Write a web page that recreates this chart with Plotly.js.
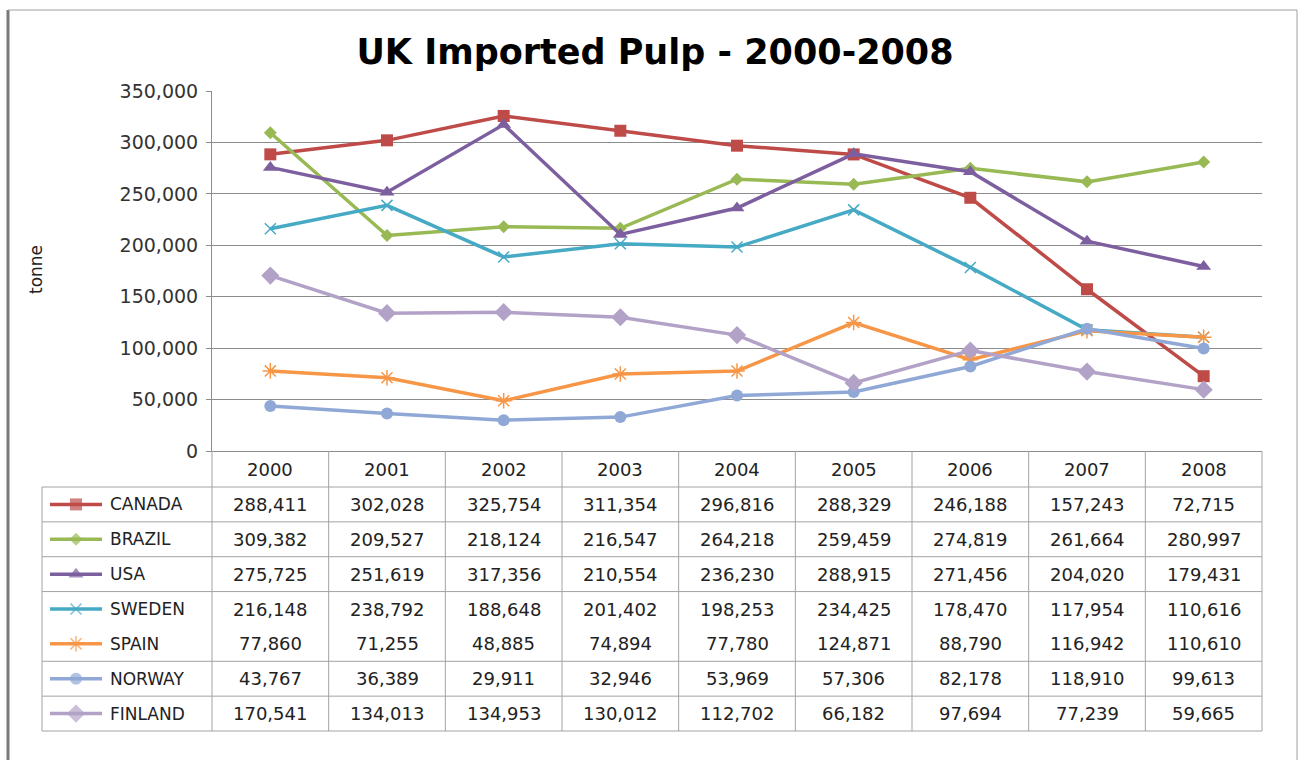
<!DOCTYPE html>
<html>
<head>
<meta charset="utf-8">
<script src="https://cdn.plot.ly/plotly-3.0.1.min.js"></script>
<style>html,body{margin:0;padding:0;background:#fff;} #chart{width:1302px;height:760px;}</style>
</head>
<body>
<div id="chart"></div>
<script>
// ---- data ----
const years = ['2000','2001','2002','2003','2004','2005','2006','2007','2008'];
const seriesNames = ['CANADA','BRAZIL','USA','SWEDEN','SPAIN','NORWAY','FINLAND'];
const canada  = [288411, 302028, 325754, 311354, 296816, 288329, 246188, 157243, 72715];
const brazil  = [309382, 209527, 218124, 216547, 264218, 259459, 274819, 261664, 280997];
const usa     = [275725, 251619, 317356, 210554, 236230, 288915, 271456, 204020, 179431];
const sweden  = [216148, 238792, 188648, 201402, 198253, 234425, 178470, 117954, 110616];
const spain   = [77860, 71255, 48885, 74894, 77780, 124871, 88790, 116942, 110610];
const norway  = [43767, 36389, 29911, 32946, 53969, 57306, 82178, 118910, 99613];
const finland = [170541, 134013, 134953, 130012, 112702, 66182, 97694, 77239, 59665];
const yTickVals = [0, 50000, 100000, 150000, 200000, 250000, 300000, 350000];

// ---- styling ----
const W = 1302, H = 760;
const plotL = 212, plotR = 1262, plotT = 91, plotB = 451;
const tableTop = 487, tableBot = 731, legendL = 42;
const nRows = seriesNames.length;
const rowH = (tableBot - tableTop) / nRows;
const colW = (plotR - plotL) / years.length;
const px = x => x / W;
const py = y => 1 - y / H;
const FONT = 'DejaVu Sans';
const gridCol = '#8c8c8c';
const tableCol = '#a3a3a3';

const styles = [
  {color:'#BE4B48', symbol:'square', size:12},
  {color:'#98B954', symbol:'diamond', size:10},
  {color:'#7D5FA0', symbol:'triangle-up', size:13},
  {color:'#46AAC5', symbol:'x-thin-open', size:11},
  {color:'#F69646', symbol:'asterisk-open', size:13},
  {color:'#8FA8D6', symbol:'circle', size:12},
  {color:'#B3A2C7', symbol:'diamond', size:14}
];
const allSeries = [canada, brazil, usa, sweden, spain, norway, finland];

const traces = [];
allSeries.forEach((vals, i) => {
  const st = styles[i];
  traces.push({
    type:'scatter', mode:'lines+markers', name: seriesNames[i],
    x: years, y: vals, xaxis:'x', yaxis:'y',
    line:{color:st.color, width:3.5},
    marker:{color:st.color, symbol:st.symbol, size:st.size, line:{color:st.color, width: (st.symbol.indexOf('open')>=0 ? 1.5 : 0)}},
    cliponaxis:false
  });
});
// legend keys inside the data table (row index on y2)
const keyX0 = 50, keyXm = 76, keyX1 = 102;
allSeries.forEach((vals, i) => {
  const st = styles[i];
  traces.push({
    type:'scatter', mode:'lines+markers', name: seriesNames[i] + ' key',
    x:[keyX0, keyXm, keyX1], y:[i, i, i], xaxis:'x2', yaxis:'y2',
    line:{color:st.color, width:3.5},
    marker:{color:st.color, symbol:st.symbol, size:[0, st.size, 0], line:{color:st.color, width:(st.symbol.indexOf('open')>=0 ? 1.5 : 0)}},
    cliponaxis:false, showlegend:false
  });
});

const shapes = [];
const line = (x0,y0,x1,y1,color,width) => shapes.push({type:'line', xref:'paper', yref:'paper', x0:px(x0), y0:py(y0), x1:px(x1), y1:py(y1), line:{color:color, width:width}});
// outer frame
line(8, 10, 8, 760, '#7a7a7a', 3);
line(8, 10, 1297, 10, '#a0a0a0', 1);
line(1297, 10, 1297, 760, '#a0a0a0', 1);
// table horizontal lines (line between SWEDEN and SPAIN absent in the original)
for (let r = 0; r <= nRows; r++) {
  if (r === 4) continue;
  const y = tableTop + r * rowH;
  line(legendL, y, plotR, y, tableCol, 1);
}
// table vertical lines
line(legendL, tableTop, legendL, tableBot, tableCol, 1);
for (let c = 0; c <= years.length; c++) {
  const x = plotL + c * colW;
  line(x, plotB, x, tableBot, tableCol, 1);
}

const annotations = [];
// header years (category index on the x axis)
years.forEach((yr, j) => annotations.push({xref:'x', yref:'paper', x:j, y:py((plotB + tableTop)/2), text:yr, showarrow:false, xanchor:'center', yanchor:'middle', font:{family:FONT, size:18, color:'#222'}}));
// values
allSeries.forEach((vals, i) => {
  vals.forEach((v, j) => annotations.push({xref:'x', yref:'y2', x:j, y:i, text:v.toLocaleString('en-US'), showarrow:false, xanchor:'center', yanchor:'middle', font:{family:FONT, size:18, color:'#222'}}));
  annotations.push({xref:'x2', yref:'y2', x:108, y:i, text:seriesNames[i], showarrow:false, xanchor:'left', yanchor:'middle', font:{family:FONT, size:17, color:'#222'}});
});
// y axis title
annotations.push({xref:'paper', yref:'paper', x:px(36), y:py(270), text:'tonne', textangle:-90, showarrow:false, xanchor:'center', yanchor:'middle', font:{family:FONT, size:17, color:'#222'}});

const layout = {
  width:W, height:H,
  margin:{l:0, r:0, t:0, b:0, pad:0},
  paper_bgcolor:'#fff', plot_bgcolor:'#fff',
  showlegend:false,
  title:{text:'<b>UK Imported Pulp - 2000-2008</b>', x:px(655), y:py(52), xref:'paper', yref:'paper', xanchor:'center', yanchor:'middle', font:{family:FONT, size:35, color:'#000'}},
  xaxis:{type:'category', domain:[px(plotL), px(plotR)], range:[-0.5, years.length - 0.5], showticklabels:false, ticks:'', showgrid:false, showline:true, linecolor:gridCol, linewidth:1, zeroline:false, fixedrange:true, anchor:'y'},
  yaxis:{domain:[py(plotB), py(plotT)], range:[0, 350000], tickvals:yTickVals, tickformat:',d', showgrid:true, gridcolor:gridCol, gridwidth:1, showline:true, linecolor:gridCol, linewidth:1, ticks:'outside', ticklen:5, tickcolor:gridCol, tickfont:{family:FONT, size:19, color:'#333'}, ticklabelstandoff:4, zeroline:false, fixedrange:true, anchor:'x', automargin:false},
  xaxis2:{domain:[0, px(plotL)], range:[0, plotL], visible:false, fixedrange:true, anchor:'y2'},
  yaxis2:{domain:[py(tableBot), py(tableTop)], range:[nRows - 0.5, -0.5], visible:false, fixedrange:true, anchor:'x2'},
  shapes:shapes,
  annotations:annotations,
  hovermode:false
};

Plotly.newPlot('chart', traces, layout, {staticPlot:true, displayModeBar:false});
</script>
</body>
</html>
